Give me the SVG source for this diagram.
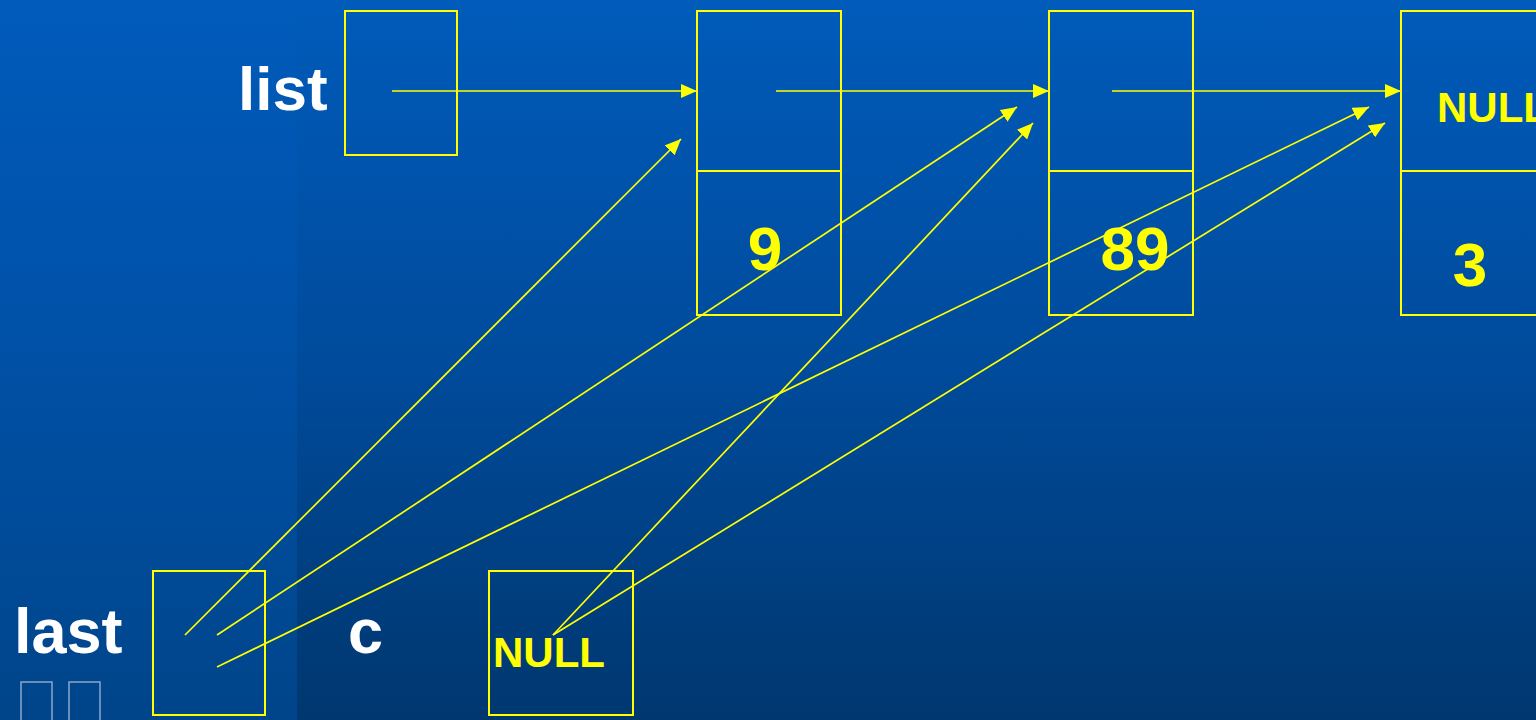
<svg xmlns="http://www.w3.org/2000/svg" width="1536" height="720" viewBox="0 0 1536 720">
<defs>
<linearGradient id="bgR" x1="0" y1="0" x2="0" y2="1">
<stop offset="0" stop-color="#005BBA"/>
<stop offset="0.5" stop-color="#004B9C"/>
<stop offset="1" stop-color="#00376F"/>
</linearGradient>
<linearGradient id="bgL" x1="0" y1="0" x2="0" y2="1">
<stop offset="0" stop-color="#005BBB"/>
<stop offset="0.5" stop-color="#0050A6"/>
<stop offset="1" stop-color="#00458A"/>
</linearGradient>
<marker id="ah" markerWidth="16" markerHeight="14" refX="16" refY="7" orient="auto" markerUnits="userSpaceOnUse">
<path d="M0,0 L16,7 L0,14 Z" fill="#FFFF00"/>
</marker>
<style>
.box{fill:none;stroke:#FFFF00;stroke-width:2}
.lbl{font-family:"Liberation Sans",Arial,sans-serif;font-weight:bold;fill:#FFFFFF}
.val{font-family:"Liberation Sans",Arial,sans-serif;font-weight:bold;fill:#FFFF00}
.con line{stroke:#FFFF00;stroke-width:1.7;marker-end:url(#ah)}
.tofu{fill:none;stroke:#8AA6CC;stroke-width:1.5}
</style>
</defs>
<rect x="0" y="0" width="1536" height="720" fill="url(#bgR)"/>
<rect x="0" y="0" width="297" height="720" fill="url(#bgL)"/>

<g id="list">
<text class="lbl" x="238" y="110" font-size="62">list</text>
<rect class="box" x="345" y="11" width="112" height="144"/>
</g>
<g id="node1">
<rect class="box" x="697" y="11" width="144" height="304"/>
<line x1="697" y1="171" x2="841" y2="171" stroke="#FFFF00" stroke-width="2"/>
<text class="val" x="765" y="270" font-size="62" text-anchor="middle">9</text>
</g>
<g id="node2">
<rect class="box" x="1049" y="11" width="144" height="304"/>
<line x1="1049" y1="171" x2="1193" y2="171" stroke="#FFFF00" stroke-width="2"/>
<text class="val" x="1135" y="270" font-size="62" text-anchor="middle">89</text>
</g>
<g id="node3">
<rect class="box" x="1401" y="11" width="160" height="304"/>
<line x1="1401" y1="171" x2="1536" y2="171" stroke="#FFFF00" stroke-width="2"/>
<text class="val" x="1437" y="122" font-size="42">NULL</text>
<text class="val" x="1470" y="286" font-size="62" text-anchor="middle">3</text>
</g>
<g id="last">
<text class="lbl" x="14" y="653" font-size="63">last</text>
<rect class="box" x="153" y="571" width="112" height="144"/>
</g>
<g id="c">
<text class="lbl" x="348" y="653" font-size="63">c</text>
<rect class="box" x="489" y="571" width="144" height="144"/>
<text class="val" x="493" y="667" font-size="42">NULL</text>
</g>
<g id="tofu">
<rect class="tofu" x="21" y="682" width="31" height="40"/>
<rect class="tofu" x="69" y="682" width="31" height="40"/>
</g>
<g id="connectors" class="con">
<line x1="392" y1="91" x2="697" y2="91"/>
<line x1="776" y1="91" x2="1049" y2="91"/>
<line x1="1112" y1="91" x2="1401" y2="91"/>
<line x1="185" y1="635" x2="681" y2="139"/>
<line x1="217" y1="635" x2="1017" y2="107"/>
<line x1="217" y1="667" x2="1369" y2="107"/>
<line x1="553" y1="635" x2="1033" y2="123"/>
<line x1="553" y1="635" x2="1385" y2="123"/>
</g>
</svg>
